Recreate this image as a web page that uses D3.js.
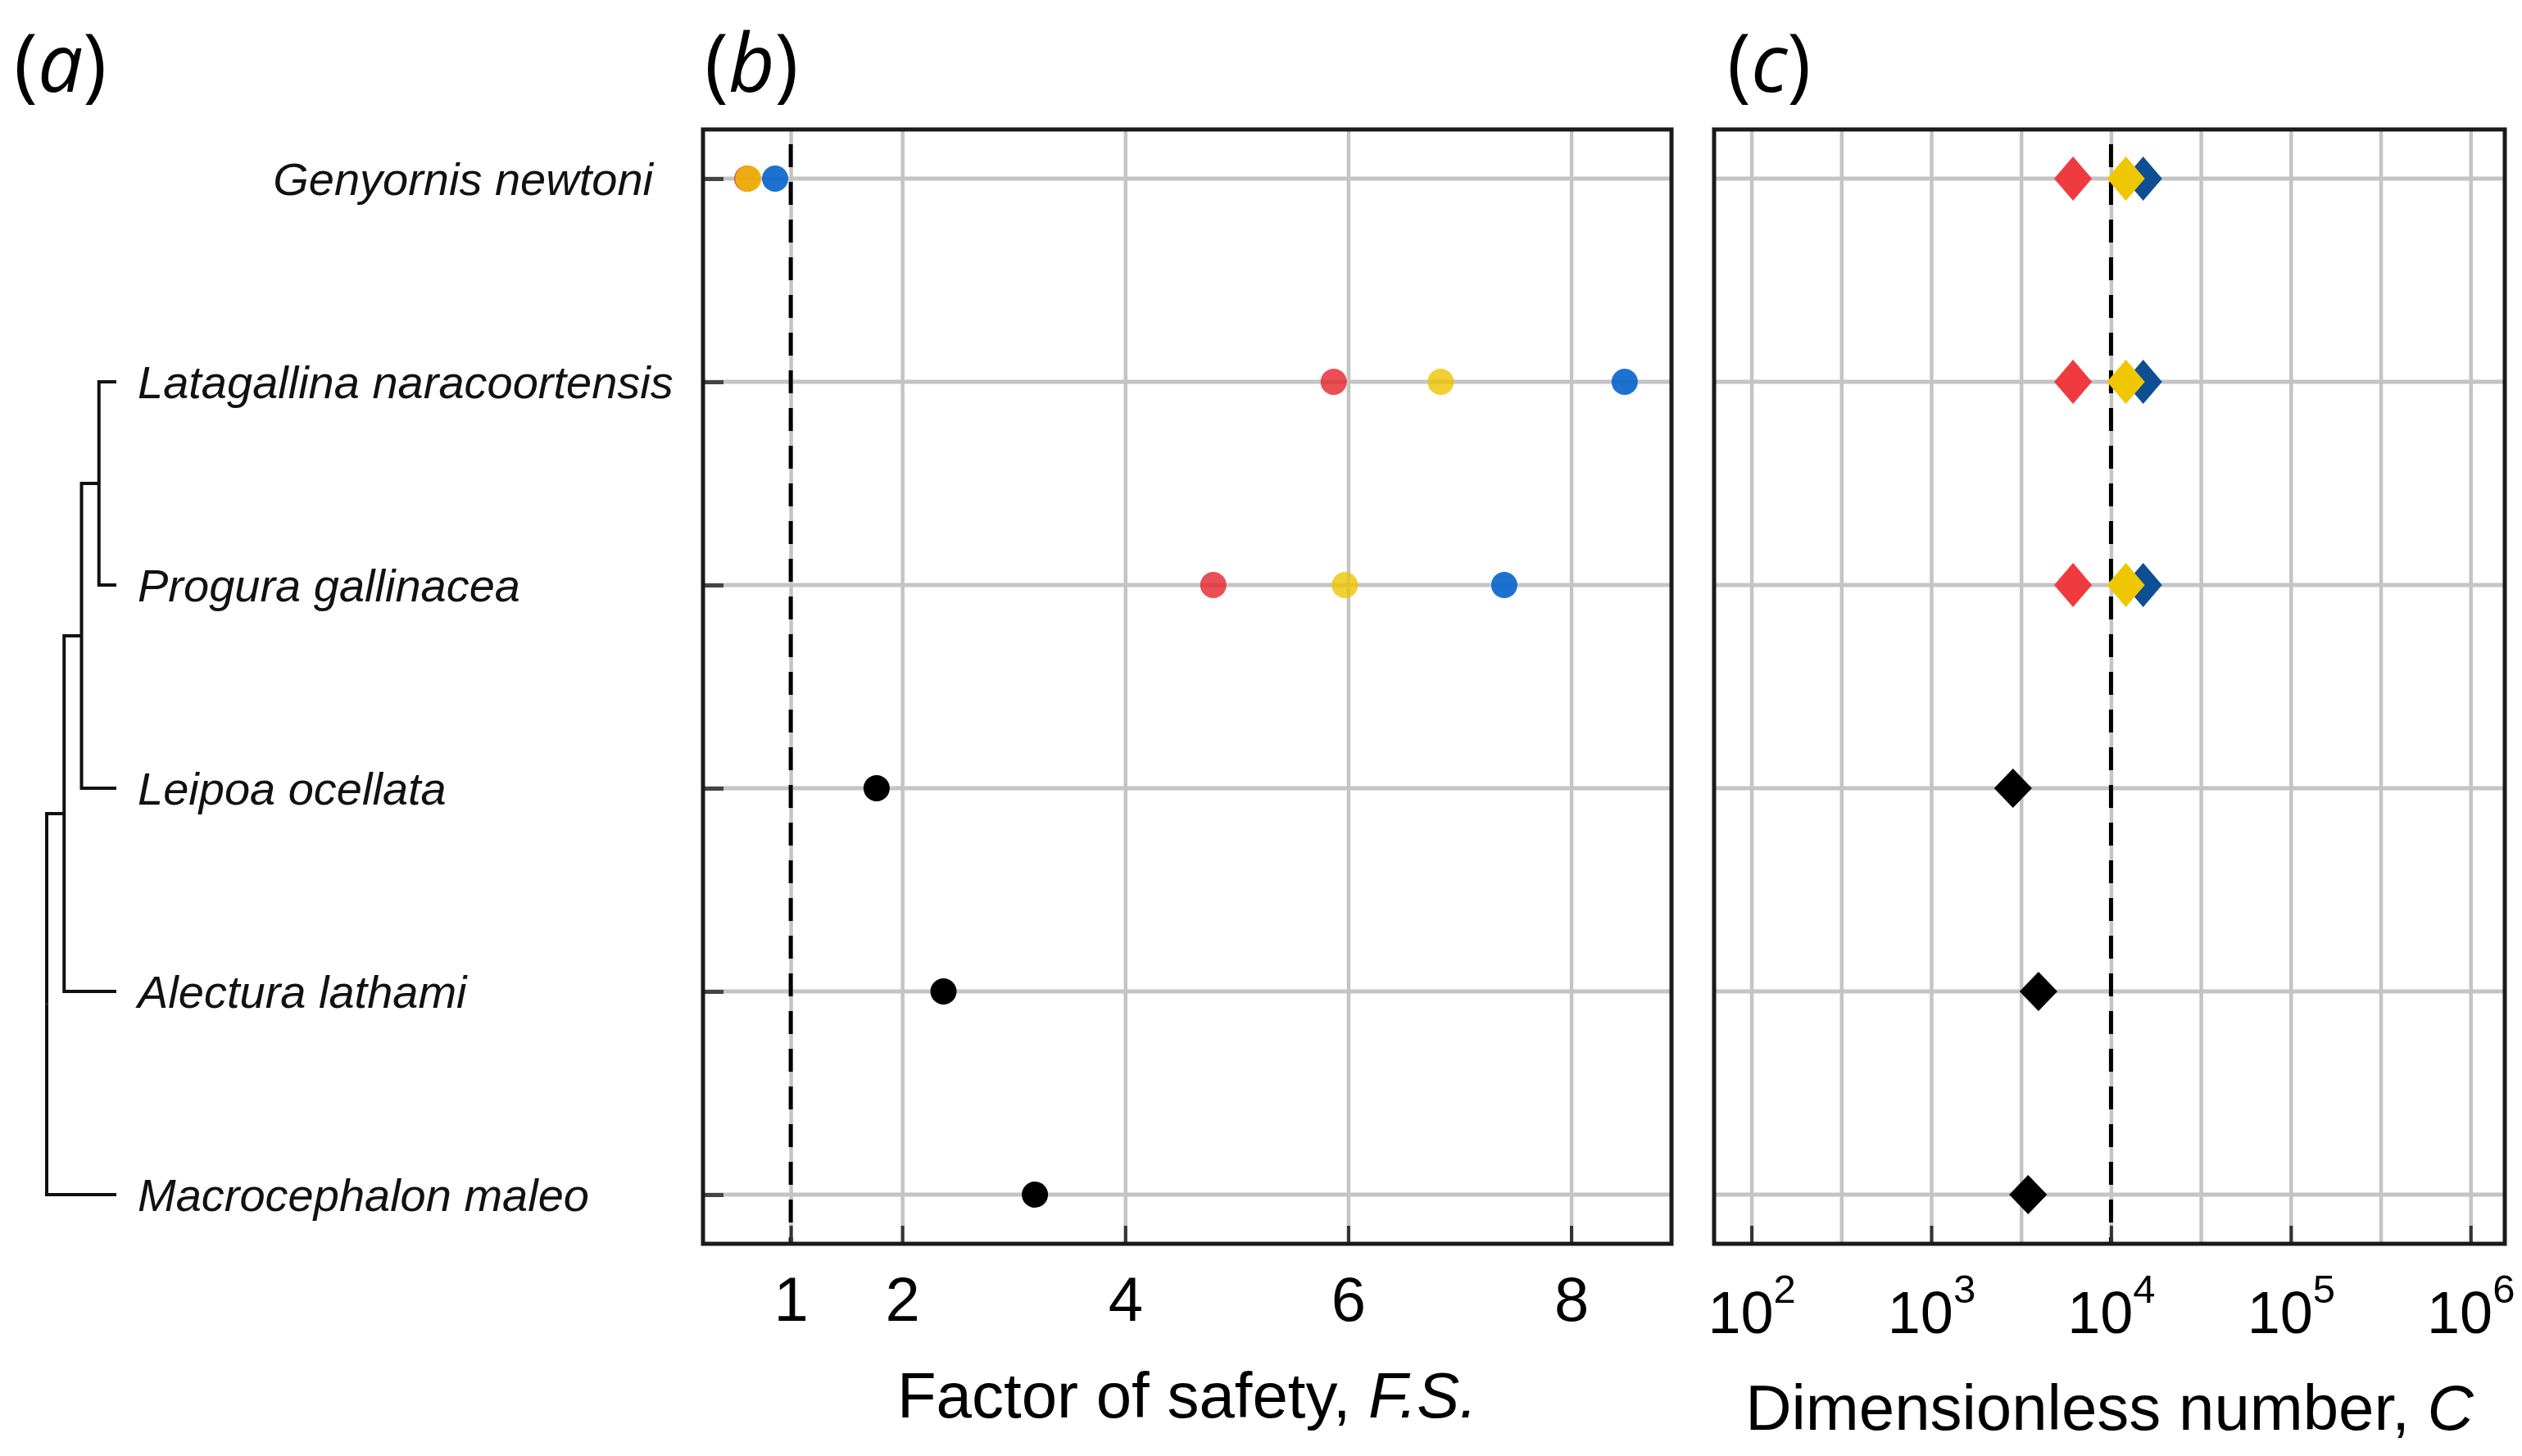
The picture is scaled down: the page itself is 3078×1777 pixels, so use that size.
<!DOCTYPE html>
<html lang="en">
<head>
<meta charset="UTF-8">
<title>Factor of safety and dimensionless number</title>
<script src="https://d3js.org/d3.v7.min.js"></script>
<style>
    body { margin: 0; background: #fff; }
    .species { font-family: "Liberation Sans", Arial, sans-serif; font-style: italic; font-size: 56px; fill: #111; }
    .tick-label { font-family: "Liberation Sans", Arial, sans-serif; font-size: 76px; fill: #000; }
    .axis-title { font-family: "Liberation Sans", Arial, sans-serif; font-size: 78px; fill: #000; }
    .panel-label { font-family: "Open Sans", sans-serif; font-size: 98px; fill: #000; }
</style>
</head>
<body>
<svg id="chart" width="3078" height="1777"></svg>
<script>
    // species, top to bottom
    const species = [
        "Genyornis newtoni",
        "Latagallina naracoortensis",
        "Progura gallinacea",
        "Leipoa ocellata",
        "Alectura lathami",
        "Macrocephalon maleo"
    ];

    // cladogram of the megapodes (Genyornis is not part of it)
    const phylogeny = [[[["Latagallina naracoortensis", "Progura gallinacea"], "Leipoa ocellata"], "Alectura lathami"], "Macrocephalon maleo"];

    // (b) factor of safety, F.S.
    const fsRed    = [0.61, 5.87, 4.79, null, null, null];
    const fsYellow = [0.62, 6.83, 5.97, null, null, null];
    const fsBlue   = [0.86, 8.48, 7.40, null, null, null];
    const fsBlack  = [null, null, null, 1.77, 2.37, 3.19];
    const fsTicks  = [1, 2, 4, 6, 8];
    const fsThreshold = 1;

    // (c) dimensionless number, C
    const cRed    = [6150, 6150, 6150, null, null, null];
    const cYellow = [12100, 12100, 12100, null, null, null];
    const cBlue   = [15100, 15100, 15100, null, null, null];
    const cBlack  = [null, null, null, 2850, 3950, 3460];
    const cTicks  = [1e2, 1e3, 1e4, 1e5, 1e6];
    const cTickExp = ["2", "3", "4", "5", "6"];
    const cGrid   = [100, 316.2, 1000, 3162, 10000, 31623, 100000, 316228, 1000000];
    const cThreshold = 1e4;

    const frameTop = 158, frameBottom = 1518;
    const bLeft = 858, bRight = 2040, cLeft = 2092, cRight = 3057;

    const svg = d3.select("#chart");

    const y = d3.scalePoint().domain(species).range([218, 1458]);
    const xFS = d3.scaleLinear().domain([0.213, 8.9]).range([bLeft, bRight]);
    const xC = d3.scaleLog().domain([62, 1.55e6]).range([cLeft, cRight]);

    const gridColor = "#c4c4c4";

    function panel(x, left, right, gridValues, tickValues, threshold) {
        const g = svg.append("g");

        // vertical grid
        g.append("g")
            .attr("transform", `translate(0,${frameBottom})`)
            .call(d3.axisBottom(x).tickValues(gridValues).tickSize(-(frameBottom - frameTop)).tickFormat(""))
            .call(a => a.select(".domain").remove())
            .selectAll("line").attr("stroke", gridColor).attr("stroke-width", 4.5);

        // row lines
        g.append("g")
            .selectAll("line")
            .data(species)
            .join("line")
            .attr("x1", left).attr("x2", right)
            .attr("y1", d => y(d)).attr("y2", d => y(d))
            .attr("stroke", gridColor)
            .attr("stroke-width", 5);

        // threshold
        g.append("line")
            .attr("x1", x(threshold)).attr("x2", x(threshold))
            .attr("y1", frameTop + 18).attr("y2", frameBottom)
            .attr("stroke", "#000")
            .attr("stroke-width", 5)
            .attr("stroke-dasharray", "28,18");

        // inward ticks on the bottom
        const ax = g.append("g")
            .attr("class", "x-axis")
            .attr("transform", `translate(0,${frameBottom})`)
            .call(d3.axisBottom(x).tickValues(tickValues).tickSizeInner(-22).tickSizeOuter(0).tickFormat(""));
        ax.select(".domain").remove();
        ax.selectAll("line").attr("stroke", "#333").attr("stroke-width", 4);

        return g;
    }

    // ---------- panel (b)
    const gb = panel(xFS, bLeft, bRight, fsTicks, fsTicks, fsThreshold);

    const yAx = gb.append("g")
        .attr("transform", `translate(${bLeft},0)`)
        .call(d3.axisLeft(y).tickSizeInner(-25).tickSizeOuter(0).tickFormat(""));
    yAx.select(".domain").remove();
    yAx.selectAll("line").attr("stroke", "#444").attr("stroke-width", 5);

    gb.select(".x-axis").selectAll(".tick")
        .append("text")
        .attr("class", "tick-label")
        .attr("y", 94)
        .attr("text-anchor", "middle")
        .text(d => d);

    const fsSeries = [
        { values: fsRed, color: "#e3232b", opacity: 0.8 },
        { values: fsYellow, color: "#eec400", opacity: 0.8 },
        { values: fsBlue, color: "#0a66cc", opacity: 0.92 },
        { values: fsBlack, color: "#000", opacity: 1 }
    ];
    fsSeries.forEach(s => {
        gb.append("g")
            .selectAll("circle")
            .data(species.map((sp, i) => ({ sp, v: s.values[i] })).filter(d => d.v != null))
            .join("circle")
            .attr("cx", d => xFS(d.v))
            .attr("cy", d => y(d.sp))
            .attr("r", 16)
            .attr("fill", s.color)
            .attr("fill-opacity", s.opacity);
    });

    svg.append("rect")
        .attr("x", bLeft).attr("y", frameTop)
        .attr("width", bRight - bLeft).attr("height", frameBottom - frameTop)
        .attr("fill", "none").attr("stroke", "#1a1a1a").attr("stroke-width", 5);

    svg.append("text")
        .attr("class", "axis-title")
        .attr("x", (bLeft + bRight) / 2).attr("y", 1730)
        .attr("text-anchor", "middle")
        .call(t => {
            t.append("tspan").text("Factor of safety, ");
            t.append("tspan").attr("font-style", "italic").text("F.S.");
        });

    // ---------- panel (c)
    const gc = panel(xC, cLeft, cRight, cGrid, cTicks, cThreshold);

    gc.select(".x-axis").selectAll(".tick")
        .append("text")
        .attr("class", "tick-label")
        .attr("y", 109)
        .attr("text-anchor", "middle")
        .style("font-size", "72px")
        .call(t => {
            t.append("tspan").text("10");
            t.append("tspan")
                .attr("dy", -37)
                .style("font-size", "49px")
                .text((d, i) => cTickExp[i]);
        });

    const cSeries = [
        { values: cBlue, color: "#0e4f94", stretch: 1.12 },
        { values: cRed, color: "#ef3b3f", stretch: 1.12 },
        { values: cYellow, color: "#efc700", stretch: 1.12 },
        { values: cBlack, color: "#000", stretch: 1.0 }
    ];
    const diamond = d3.symbol().type(d3.symbolSquare).size(34 * 34);
    cSeries.forEach(s => {
        gc.append("g")
            .selectAll("path")
            .data(species.map((sp, i) => ({ sp, v: s.values[i] })).filter(d => d.v != null))
            .join("path")
            .attr("d", diamond)
            .attr("transform", d => `translate(${xC(d.v)},${y(d.sp)}) scale(0.96,${s.stretch}) rotate(45)`)
            .attr("fill", s.color);
    });

    svg.append("rect")
        .attr("x", cLeft).attr("y", frameTop)
        .attr("width", cRight - cLeft).attr("height", frameBottom - frameTop)
        .attr("fill", "none").attr("stroke", "#1a1a1a").attr("stroke-width", 5);

    svg.append("text")
        .attr("class", "axis-title")
        .attr("x", (cLeft + cRight) / 2).attr("y", 1745)
        .attr("text-anchor", "middle")
        .call(t => {
            t.append("tspan").text("Dimensionless number, ");
            t.append("tspan").attr("font-style", "italic").text("C");
        });

    // ---------- panel (a): cladogram
    const root = d3.hierarchy(phylogeny, d => Array.isArray(d) ? d : null);
    const treeX = d3.scaleLinear().domain([0, root.height]).range([57, 142]);
    root.eachAfter(n => {
        if (n.children) {
            n.py = d3.mean(n.children, c => c.py);
            n.px = treeX(root.height - n.height);
        } else {
            n.py = y(n.data);
            n.px = treeX(root.height);
        }
    });

    svg.append("g")
        .selectAll("path")
        .data(root.links())
        .join("path")
        .attr("d", l => `M${l.source.px},${l.source.py}V${l.target.py}H${l.target.px}`)
        .attr("fill", "none")
        .attr("stroke", "#111")
        .attr("stroke-width", 4);

    const tips = root.leaves().map(n => n.data);
    svg.append("g")
        .selectAll("text")
        .data(species)
        .join("text")
        .attr("class", "species")
        .attr("x", d => tips.includes(d) ? 168 : 797)
        .attr("y", d => y(d))
        .attr("dy", "0.35em")
        .attr("text-anchor", d => tips.includes(d) ? "start" : "end")
        .text(d => d);

    // panel letters
    [["a", 17], ["b", 860], ["c", 2108]].forEach(([letter, x]) => {
        svg.append("text")
            .attr("class", "panel-label")
            .attr("x", x).attr("y", 112)
            .call(t => {
                t.append("tspan").text("(");
                t.append("tspan").attr("font-style", "italic").text(letter);
                t.append("tspan").text(")");
            });
    });
</script>
</body>
</html>
